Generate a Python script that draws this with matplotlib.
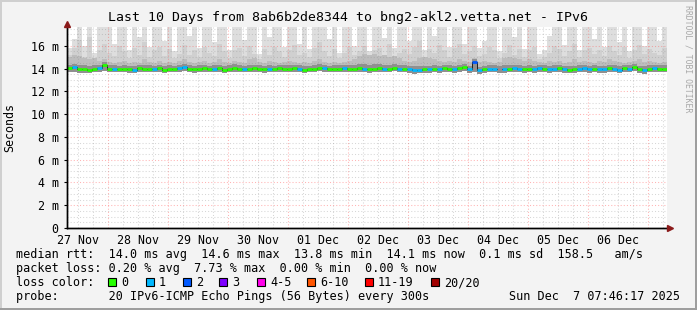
import matplotlib
matplotlib.use('Agg')
import matplotlib.pyplot as plt
import matplotlib.dates as mdates
from matplotlib.patches import Rectangle
from matplotlib.lines import Line2D
import numpy as np
from datetime import datetime, timedelta

# ---------------- data (2-hour bins, RTT in ms) ----------------
start = datetime(2025, 11, 27, 7, 46, 17)
end = datetime(2025, 12, 7, 7, 46, 17)

median = [
    14.05, 14.15, 13.98, 13.92, 13.85, 14.00, 14.02, 14.30,
    14.00, 13.95, 13.95, 14.00, 13.92, 13.88, 14.05, 13.98, 14.00, 13.95, 14.02, 13.90,
    14.00, 13.95, 14.05, 14.10, 13.98, 13.92, 14.00, 14.02, 13.95, 14.00, 14.05, 13.90,
    14.00, 14.08, 14.00, 13.95, 13.98, 14.05, 14.00, 13.92, 14.00, 13.95, 14.02, 14.00,
    13.98, 14.05, 14.00, 13.90, 13.95, 14.00, 14.08, 14.02, 13.95, 14.00, 13.98, 14.05,
    14.00, 13.95, 14.05, 14.00, 13.92, 14.00, 14.03, 13.97, 14.00, 14.08, 13.95, 14.00,
    13.95, 13.88, 13.90, 13.95, 13.92, 14.00, 13.95, 14.05, 13.98, 13.95, 14.05, 14.10,
    13.95, 14.60, 13.85, 13.95, 14.00, 13.98, np.nan, 13.95, 14.00, 14.02, 13.98, 13.95,
    14.00, 13.95, 14.05, 13.98, 13.92, 14.00, 14.05, 13.95, 13.90, 13.95, 14.00, 14.05,
    13.95, 14.00, 13.92, 13.95, 14.05, 14.00, 13.90, 14.02, 13.98, 14.10, 13.95, 13.88,
    14.00, 14.05, 13.98, 14.00,
]
loss = [
    0, 1, 0, 0, 0, 0, 1, 0,
    0, 1, 0, 0, 0, 1, 0, 0, 0, 1, 0, 0,
    0, 0, 1, 1, 0, 0, 0, 0, 0, 1, 0, 0,
    0, 0, 0, 1, 0, 0, 0, 0, 1, 0, 0, 0,
    0, 0, 1, 0, 0, 0, 0, 1, 0, 0, 0, 1,
    0, 0, 0, 1, 0, 0, 0, 1, 0, 0, 1, 0,
    1, 1, 1, 0, 1, 0, 1, 0, 0, 1, 0, 0,
    1, 2, 1, 0, 1, 1, 0, 1, 0, 1, 1, 0,
    0, 1, 1, 0, 1, 1, 0, 1, 0, 0, 1, 1,
    1, 0, 1, 1, 0, 1, 1, 0, 1, 0, 0, 1,
    0, 1, 0, 0,
]
smoke_max = [
    15.8, 16.6, 17.8, 16.0, 17.8, 15.4, 17.8, 17.8,
    17.8, 16.2, 17.8, 17.8, 15.6, 17.8, 16.8, 17.8, 15.9, 17.8, 17.8, 16.4,
    17.8, 15.5, 17.8, 17.8, 16.9, 17.8, 15.8, 17.8, 17.8, 16.3, 17.8, 17.8,
    15.6, 17.8, 17.8, 16.5, 17.8, 17.8, 15.3, 17.8, 16.8, 17.8, 17.8, 15.9,
    17.8, 17.8, 16.2, 17.8, 15.7, 17.8, 17.8, 17.8, 16.6, 17.8, 15.4, 17.8,
    17.8, 16.0, 17.8, 17.8, 15.5, 17.8, 17.8, 16.7, 17.8, 15.8, 17.8, 17.8,
    16.4, 17.8, 17.8, 15.6, 17.8, 16.9, 17.8, 17.8, 15.9, 17.8, 17.8, 16.2,
    17.8, 17.8, 15.8, 16.4, 17.8, 17.8, 15.5, 17.8, 17.8, 16.8, 17.8, 15.7,
    17.8, 17.8, 15.3, 15.6, 16.9, 17.8, 17.8, 16.1, 17.8, 17.8, 15.6, 17.8,
    17.8, 16.6, 17.8, 15.9, 17.8, 17.8, 16.3, 17.8, 15.5, 17.8, 17.8, 16.0,
    17.8, 17.8, 16.4, 17.8,
]
smoke_p2 = [
    15.2, 15.8, 16.5, 15.0, 16.8, 14.9, 15.6, 16.2,
    15.4, 15.1, 16.0, 15.5, 14.9, 15.8, 15.2, 16.3, 15.0, 15.6, 15.9, 15.1,
    15.7, 14.9, 15.3, 16.1, 15.2, 15.6, 15.0, 15.9, 15.4, 15.1, 16.2, 15.5,
    14.9, 15.6, 15.8, 15.1, 16.0, 15.3, 14.8, 15.7, 15.2, 15.9, 15.5, 15.0,
    15.6, 16.1, 15.2, 15.4, 15.0, 15.8, 16.3, 15.5, 15.1, 15.7, 14.9, 15.4,
    15.9, 15.2, 15.5, 16.0, 14.9, 15.6, 15.8, 15.1, 16.2, 15.0, 15.4, 15.7,
    15.3, 15.9, 16.4, 15.0, 15.7, 15.4, 16.1, 15.6, 15.0, 15.8, 16.2, 15.3,
    15.5, 16.0, 15.1, 15.3, 15.9, 15.6, 14.9, 15.4, 16.1, 15.2, 15.7, 15.0,
    15.6, 15.9, 14.8, 15.0, 15.4, 16.0, 15.7, 15.1, 15.5, 16.2, 15.0, 15.6,
    15.8, 15.3, 15.6, 15.1, 16.0, 15.5, 15.2, 15.9, 14.9, 15.6, 16.1, 15.3,
    15.7, 15.4, 15.2, 15.8,
]
smoke_p3 = [
    15.0, 15.2, 15.1, 14.9, 14.8, 14.9, 14.7, 14.8,
    14.6, 14.5, 14.6, 14.7, 14.5, 14.6, 14.5, 14.8, 14.6, 14.5, 14.7, 14.5,
    14.6, 14.5, 14.7, 14.8, 14.6, 14.5, 14.6, 14.7, 14.5, 14.6, 14.8, 14.6,
    14.5, 14.7, 14.6, 14.5, 14.8, 14.9, 14.6, 14.5, 14.7, 14.6, 14.5, 14.6,
    14.7, 14.6, 14.5, 14.6, 14.5, 14.7, 14.8, 14.6, 14.5, 14.6, 14.5, 14.6,
    14.7, 14.8, 15.1, 15.3, 15.2, 15.3, 15.1, 15.2, 15.0, 15.1, 14.9, 14.7,
    14.6, 14.7, 14.9, 15.0, 14.9, 14.8, 14.7, 14.6, 14.7, 14.6, 14.8, 14.7,
    14.6, 14.9, 14.6, 14.7, 14.6, 14.5, 14.6, 14.9, 15.0, 14.9, 14.8, 14.7,
    14.8, 14.7, 14.6, 14.5, 14.7, 14.6, 14.7, 14.5, 14.6, 14.8, 14.6, 14.7,
    14.6, 14.5, 14.7, 14.6, 14.8, 14.7, 14.6, 14.5, 14.6, 14.7, 14.8, 14.6,
    14.7, 14.6, 14.5, 14.6,
]
smoke_dark = [
    14.35, 14.40, 14.30, 14.28, 14.25, 14.32, 14.35, 14.55,
    14.30, 14.28, 14.25, 14.30, 14.22, 14.20, 14.35, 14.28, 14.30, 14.25, 14.32, 14.22,
    14.30, 14.25, 14.35, 14.40, 14.28, 14.22, 14.30, 14.32, 14.25, 14.30, 14.35, 14.22,
    14.30, 14.38, 14.30, 14.25, 14.28, 14.35, 14.30, 14.22, 14.30, 14.25, 14.32, 14.30,
    14.28, 14.35, 14.30, 14.22, 14.25, 14.30, 14.38, 14.32, 14.25, 14.30, 14.28, 14.35,
    14.35, 14.30, 14.40, 14.38, 14.30, 14.36, 14.40, 14.32, 14.35, 14.40, 14.28, 14.30,
    14.25, 14.20, 14.22, 14.25, 14.22, 14.30, 14.25, 14.35, 14.28, 14.25, 14.35, 14.40,
    14.25, 14.80, 14.15, 14.25, 14.30, 14.28, 14.25, 14.30, 14.35, 14.32, 14.28, 14.25,
    14.30, 14.25, 14.35, 14.28, 14.22, 14.30, 14.35, 14.25, 14.20, 14.25, 14.30, 14.35,
    14.25, 14.30, 14.22, 14.25, 14.35, 14.30, 14.20, 14.32, 14.28, 14.40, 14.25, 14.20,
    14.30, 14.35, 14.28, 14.30,
]
smoke_min = [
    13.70, 13.72, 13.65, 13.60, 13.58, 13.68, 13.70, 13.75,
    13.72, 13.68, 13.66, 13.70, 13.62, 13.60, 13.72, 13.68, 13.70, 13.66, 13.70, 13.62,
    13.70, 13.66, 13.72, 13.75, 13.68, 13.64, 13.70, 13.72, 13.66, 13.70, 13.72, 13.62,
    13.70, 13.74, 13.70, 13.66, 13.68, 13.72, 13.70, 13.64, 13.70, 13.66, 13.72, 13.70,
    13.68, 13.72, 13.70, 13.62, 13.66, 13.70, 13.75, 13.72, 13.66, 13.70, 13.68, 13.72,
    13.70, 13.66, 13.72, 13.70, 13.64, 13.70, 13.72, 13.68, 13.70, 13.75, 13.66, 13.70,
    13.62, 13.55, 13.58, 13.62, 13.60, 13.68, 13.62, 13.72, 13.66, 13.62, 13.72, 13.75,
    13.62, 13.70, 13.52, 13.62, 13.68, 13.66, 13.62, 13.64, 13.70, 13.72, 13.66, 13.62,
    13.70, 13.64, 13.72, 13.66, 13.60, 13.70, 13.72, 13.62, 13.58, 13.62, 13.70, 13.72,
    13.62, 13.70, 13.60, 13.62, 13.72, 13.70, 13.58, 13.72, 13.66, 13.75, 13.62, 13.56,
    13.70, 13.72, 13.66, 13.70,
]

loss_labels = ['0', '1', '2', '3', '4-5', '6-10', '11-19', '20/20']
loss_colors = ['#26ff00', '#00b8ff', '#0059ff', '#7e00ff', '#ff00ea', '#ff5500', '#ff0000', '#a00000']
loss_class_color = {0: '#26ff00', 1: '#00b8ff', 2: '#0059ff'}

title = 'Last 10 Days from 8ab6b2de8344 to bng2-akl2.vetta.net - IPv6'
line_rtt = 'median rtt:  14.0 ms avg  14.6 ms max  13.8 ms min  14.1 ms now  0.1 ms sd  158.5   am/s'
line_loss = 'packet loss: 0.20 % avg  7.73 % max  0.00 % min  0.00 % now'
line_probe = 'probe:       20 IPv6-ICMP Echo Pings (56 Bytes) every 300s'
stamp = 'Sun Dec  7 07:46:17 2025'

# ---------------- figure ----------------
W, H = 697, 310
MONO = 'DejaVu Sans Mono'
fig = plt.figure(figsize=(W / 100, H / 100), dpi=100, facecolor='#F3F3F3')

def fx(px):
    return px / W

def fy(py):
    return 1 - py / H

ax = fig.add_axes([fx(67), fy(228), 600 / W, 201 / H])
ax.set_facecolor('white')

n = len(median)
edges = mdates.date2num([start + timedelta(hours=2 * i) for i in range(n + 1)])

def ext(a):
    a = np.asarray(a, dtype=float)
    return np.append(a, a[-1])

lo = ext(smoke_min)
ax.fill_between(edges, lo, ext(smoke_max), step='post', color='#DEDEDE', lw=0, zorder=1)
ax.fill_between(edges, lo, ext(smoke_p2), step='post', color='#D0D0D0', lw=0, zorder=1.1)
ax.fill_between(edges, lo, ext(smoke_p3), step='post', color='#BDBDBD', lw=0, zorder=1.2)
ax.fill_between(edges, lo, ext(smoke_dark), step='post', color='#909090', lw=0, zorder=1.3)

# grid (drawn over the smoke, like rrdtool)
dot = (0, (1.0, 2.0))
minor_c = (0.55, 0.55, 0.55, 0.35)
major_c = (1.0, 0.35, 0.35, 0.45)
t = datetime(2025, 11, 27, 12, 0)
while t < end:
    c = major_c if t.hour == 0 else minor_c
    ax.axvline(mdates.date2num(t), color=c, ls=dot, lw=0.75, zorder=2)
    t += timedelta(hours=6)
for k in range(1, 36):
    v = k * 0.5
    if v > 17.6:
        break
    c = major_c if k % 4 == 0 else minor_c
    ax.axhline(v, color=c, ls=dot, lw=0.75, zorder=2)

# median line
med = ext(median)
ax.step(edges, med, where='post', color='#202020', lw=0.7, zorder=3)
for i in range(n):
    if np.isnan(median[i]):
        continue
    ax.hlines(median[i], edges[i], edges[i + 1], color=loss_class_color[loss[i]], lw=2.0, zorder=4)

ax.set_xlim(mdates.date2num(start), mdates.date2num(end))
ax.set_ylim(0, 17.65)

noon = [datetime(2025, 11, 27, 12) + timedelta(days=d) for d in range(10)]
ax.set_xticks(mdates.date2num(noon))
ax.set_xticklabels([d.strftime('%d %b') for d in noon], fontfamily=MONO, fontsize=8.4)
yt = list(range(0, 17, 2))
ax.set_yticks(yt)
ax.set_yticklabels(['0' if v == 0 else f'{v} m' for v in yt], fontfamily=MONO, fontsize=8.4)
ax.tick_params(axis='x', length=0, pad=4.2)
ax.tick_params(axis='y', length=2.5, width=0.8, pad=3.5, direction='out')

for s in ['top', 'right']:
    ax.spines[s].set_visible(False)
for s in ['left', 'bottom']:
    ax.spines[s].set_color('black')
    ax.spines[s].set_linewidth(1.0)
    ax.spines[s].set_zorder(5)

# axis arrows
fig.add_artist(Line2D([fx(67), fx(668)], [fy(228), fy(228)], color='black', lw=1.0))
fig.add_artist(Line2D([fx(67), fx(67)], [fy(228), fy(24)], color='black', lw=1.0))
fig.add_artist(Line2D([fx(670)], [fy(228)], marker='>', color='#8B1A1A', markersize=5, lw=0))
fig.add_artist(Line2D([fx(67)], [fy(24)], marker='^', color='#8B1A1A', markersize=5, lw=0))

# texts
fig.text(0.5, fy(18), title, ha='center', va='center', fontfamily=MONO, fontsize=9.5)
fig.text(fx(10), fy(128), 'Seconds', rotation=90, ha='center', va='center', fontfamily=MONO, fontsize=8.4)
fig.text(fx(688), fy(5), 'RRDTOOL / TOBI OETIKER', rotation=270, ha='center', va='top',
         fontfamily=MONO, fontsize=5.9, color='#A8A8A8')

fig.text(fx(16), fy(258), line_rtt, ha='left', va='baseline', fontfamily=MONO, fontsize=8.5)
fig.text(fx(16), fy(272), line_loss, ha='left', va='baseline', fontfamily=MONO, fontsize=8.5)
fig.text(fx(16), fy(286), 'loss color:', ha='left', va='baseline', fontfamily=MONO, fontsize=8.5)
fig.text(fx(16), fy(300), line_probe, ha='left', va='baseline', fontfamily=MONO, fontsize=8.5)
fig.text(fx(680), fy(300), stamp, ha='right', va='baseline', fontfamily=MONO, fontsize=8.5)

sq_x = [108, 146, 183, 219, 257, 307, 365, 431]
for x0, lab, col in zip(sq_x, loss_labels, loss_colors):
    fig.add_artist(Rectangle((fx(x0), fy(286)), 8 / W, 8 / H, facecolor=col, edgecolor='black',
                             lw=0.8, transform=fig.transFigure))
    fig.text(fx(x0 + 13), fy(286), lab, ha='left', va='baseline', fontfamily=MONO, fontsize=8.5)

# bevel border
fig.add_artist(Rectangle((0, fy(2)), 1, 2 / H, facecolor='#CFCFCF', lw=0, transform=fig.transFigure))
fig.add_artist(Rectangle((0, 0), 2 / W, 1, facecolor='#CFCFCF', lw=0, transform=fig.transFigure))
fig.add_artist(Rectangle((0, 0), 1, 2 / H, facecolor='#9E9E9E', lw=0, transform=fig.transFigure))
fig.add_artist(Rectangle((fx(695), 0), 2 / W, 1, facecolor='#9E9E9E', lw=0, transform=fig.transFigure))

fig.savefig('out.png', dpi=100, facecolor=fig.get_facecolor())
